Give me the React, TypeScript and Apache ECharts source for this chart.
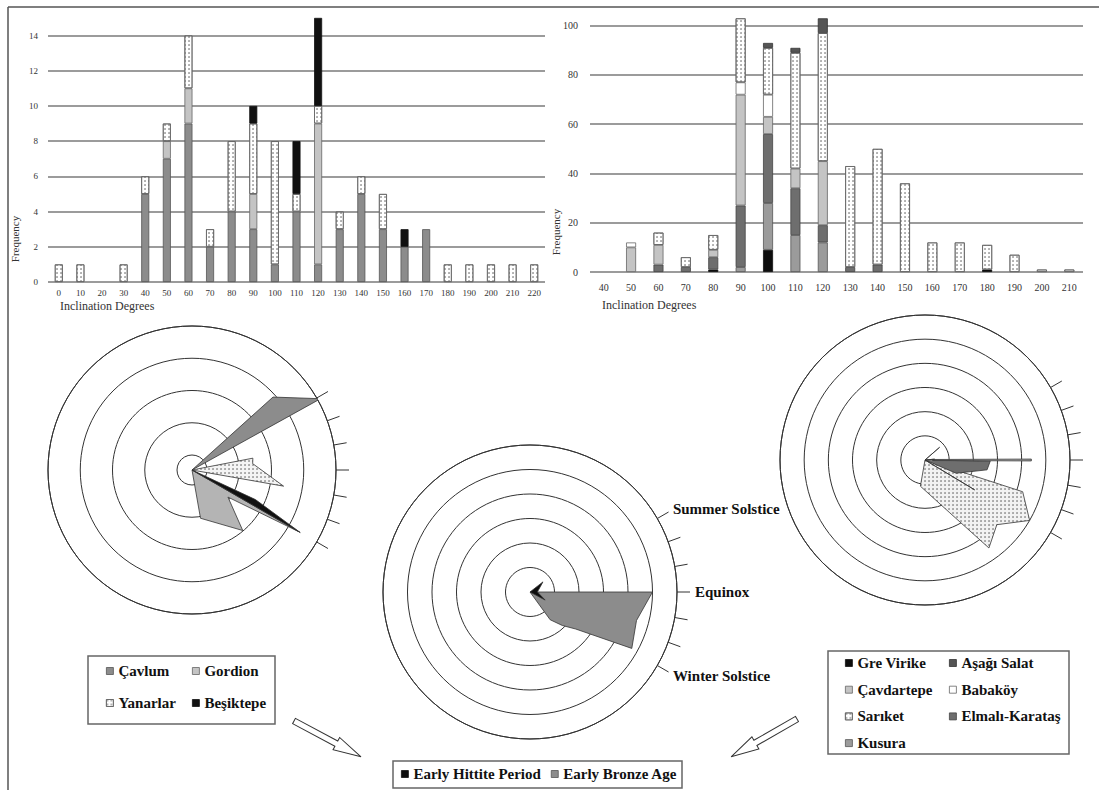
import React, { useEffect, useRef } from "react";
import * as echarts from "echarts";

const SERIF = "'Liberation Serif', 'DejaVu Serif', serif";

// ---------- Top-left histogram (Early Bronze Age sites) ----------
const leftCategories = ["0", "10", "20", "30", "40", "50", "60", "70", "80", "90", "100", "110", "120", "130", "140", "150", "160", "170", "180", "190", "200", "210", "220"];
const leftYMin = 0;
const leftYMax = 14;
const leftYStep = 2;
const cavlumCounts = [0, 0, 0, 0, 5, 7, 9, 2, 4, 3, 1, 4, 1, 3, 5, 3, 2, 3, 0, 0, 0, 0, 0];
const gordionCounts = [0, 0, 0, 0, 0, 1, 2, 0, 0, 2, 0, 0, 8, 0, 0, 0, 0, 0, 0, 0, 0, 0, 0];
const yanarlarCounts = [1, 1, 0, 1, 1, 1, 3, 1, 4, 4, 7, 1, 1, 1, 1, 2, 0, 0, 1, 1, 1, 1, 1];
const besiktepeCounts = [0, 0, 0, 0, 0, 0, 0, 0, 0, 1, 0, 3, 5, 0, 0, 0, 1, 0, 0, 0, 0, 0, 0];

// ---------- Top-right histogram ----------
const rightCategories = ["40", "50", "60", "70", "80", "90", "100", "110", "120", "130", "140", "150", "160", "170", "180", "190", "200", "210"];
const rightYMin = 0;
const rightYMax = 100;
const rightYStep = 20;
const greVirikeCounts = [0, 0, 0, 0, 1, 0, 9, 0, 0, 0, 0, 0, 0, 0, 1, 0, 0, 0];
const kusuraCounts = [0, 0, 0, 0, 0, 2, 19, 15, 12, 0, 0, 0, 0, 0, 0, 0, 0, 0];
const elmaliCounts = [0, 0, 3, 2, 5, 25, 28, 19, 7, 2, 3, 0, 0, 0, 0, 0, 0, 0];
const cavdartepeCounts = [0, 10, 8, 0, 3, 45, 7, 8, 26, 0, 0, 0, 0, 0, 0, 0, 0, 0];
const babakoyCounts = [0, 2, 0, 0, 0, 5, 9, 0, 0, 0, 0, 0, 0, 0, 0, 0, 0, 0];
const sariketCounts = [0, 0, 5, 4, 6, 26, 19, 47, 52, 41, 47, 36, 12, 12, 10, 7, 1, 1];
const asagiSalatCounts = [0, 0, 0, 0, 0, 0, 2, 2, 6, 0, 0, 0, 0, 0, 0, 0, 0, 0];

// ---------- Rose diagrams: [radius, azimuth] ----------
const compassDirections = ["0", "10", "20", "30", "40", "50", "60", "70", "80", "90", "100", "110", "120", "130", "140", "150", "160", "170", "180", "190", "200", "210", "220", "230", "240", "250", "260", "270", "280", "290", "300", "310", "320", "330", "340", "350"];
const sunriseMarks = ["60", "70", "80", "90", "100", "110", "120"];
const solsticeNames: Record<string, string> = { "60": "Summer Solstice", "90": "Equinox", "120": "Winter Solstice" };

const leftRoseRingMin = -0.465;
const leftRoseRingMax = 4;
const leftRoseMax = 14.4;
const leftRoseCavlum = [[0, 40], [10.9, 48], [14.7, 61], [0, 66]];
const leftRoseGordion = [[0, 116], [12.4, 120], [4.5, 127], [7.9, 140], [4.9, 170], [0, 176]];
const leftRoseYanarlar = [[0, 70], [6.2, 79], [6.1, 84], [9.3, 100], [0, 104]];
const leftRoseBesiktepe = [[0, 110], [7, 115], [12.5, 120], [0, 122]];

const midRoseMax = 6;
const midRoseBronze = [[0, 80], [5.0, 90], [4.5, 105], [4.75, 119], [2.4, 129], [1.9, 136], [1.4, 144], [0, 150]];
const midRoseHittite = [[0, 40], [0.67, 52], [0.3, 90], [0.7, 118], [0, 130]];

const rightRoseMax = 6;
const rightRoseSariket = [[0, 100], [4.25, 108], [5.0, 120], [4.0, 132], [4.5, 144], [2.4, 155], [1.1, 190], [0, 200]];
const rightRoseElmali = [[0, 85], [2.7, 91], [2.6, 99], [1.4, 113], [0, 118]];
const rightRoseCavdartepe = [[0.3, 86], [4.4, 89.5], [4.4, 90.5], [0.3, 94]];
const rightRoseKusura = [[0, 119], [2.4, 121], [0, 123]];
const rightRoseBabakoy = [[0, 40], [0.8, 49], [0, 70]];
const rightRoseGreVirike = [[0, 80], [0.4, 85], [0, 95]];

// ---------- styles ----------
const dots = { symbol: "circle", symbolSize: 0.7, color: "#444", dashArrayX: [2, 1.5], dashArrayY: [2, 1.5], rotation: 0 };
const S = {
  cavlum: { color: "#8c8c8c", borderColor: "#555", borderWidth: 0.8 },
  gordion: { color: "#c4c4c4", borderColor: "#666", borderWidth: 0.8 },
  yanarlar: { color: "#ffffff", borderColor: "#666", borderWidth: 0.8, decal: dots },
  besiktepe: { color: "#111111", borderColor: "#111", borderWidth: 0.8 },
  greVirike: { color: "#0d0d0d", borderColor: "#111", borderWidth: 0.8 },
  kusura: { color: "#9b9b9b", borderColor: "#555", borderWidth: 0.8 },
  elmali: { color: "#6e6e6e", borderColor: "#444", borderWidth: 0.8 },
  cavdartepe: { color: "#c4c4c4", borderColor: "#666", borderWidth: 0.8 },
  babakoy: { color: "#ffffff", borderColor: "#666", borderWidth: 0.8 },
  sariket: { color: "#ffffff", borderColor: "#666", borderWidth: 0.8, decal: dots },
  asagi: { color: "#555555", borderColor: "#333", borderWidth: 0.8 },
  hittite: { color: "#0d0d0d", borderColor: "#111", borderWidth: 0.8 },
  bronze: { color: "#8c8c8c", borderColor: "#555", borderWidth: 0.8 },
};

const nz = (a: number[]) => a.map((v) => (v === 0 ? "-" : v));

function bar(name: string, data: number[], idx: number, width: number, style: any) {
  return {
    type: "bar",
    name,
    data: nz(data),
    xAxisIndex: idx,
    yAxisIndex: idx,
    stack: "s" + idx,
    barWidth: width,
    clip: false,
    itemStyle: style,
    emphasis: { disabled: true },
    silent: true,
  };
}

function rose(name: string, data: number[][], polarIndex: number, style: any, z = 3) {
  return {
    type: "line",
    name,
    coordinateSystem: "polar",
    polarIndex,
    data,
    symbol: "none",
    showSymbol: false,
    smooth: false,
    silent: true,
    z,
    lineStyle: { color: "#333", width: 0.8, decal: style.decal },
    areaStyle: { color: style.color, opacity: 1 },
    itemStyle: { color: style.color, decal: style.decal },
    emphasis: { disabled: true },
  };
}

function decorAngle(polarIndex: number, withLabels: boolean) {
  return {
    polarIndex,
    type: "category",
    data: compassDirections,
    boundaryGap: true,
    startAngle: 95,
    clockwise: true,
    silent: true,
    axisLine: { show: true, lineStyle: { color: "#333", width: 1 } },
    axisTick: {
      show: true,
      inside: false,
      length: 13,
      alignWithLabel: true,
      interval: (_i: number, v: string) => sunriseMarks.indexOf(v) >= 0,
      lineStyle: { color: "#333", width: 1 },
    },
    axisLabel: withLabels
      ? {
          show: true,
          interval: (_i: number, v: string) => v in solsticeNames,
          formatter: (v: string) => solsticeNames[v] || "",
          margin: 18,
          fontFamily: SERIF,
          fontWeight: "bold",
          fontSize: 15,
          lineHeight: 2,
          color: "#111",
        }
      : { show: false },
    splitLine: { show: false },
  };
}

function dataAngle(polarIndex: number) {
  return {
    polarIndex,
    type: "value",
    min: 0,
    max: 360,
    startAngle: 90,
    clockwise: true,
    axisLine: { show: false },
    axisTick: { show: false },
    axisLabel: { show: false },
    splitLine: { show: false },
  };
}

function decorRadius(polarIndex: number, min: number, max: number, interval?: number) {
  const r: any = {
    polarIndex,
    type: "value",
    min,
    max,
    silent: true,
    axisLine: { show: false },
    axisTick: { show: false },
    axisLabel: { show: false },
    splitLine: { show: true, lineStyle: { color: "#333", width: 1 } },
  };
  if (interval) r.interval = interval;
  else r.splitNumber = 4;
  return r;
}

function dataRadius(polarIndex: number, max: number) {
  return {
    polarIndex,
    type: "value",
    min: 0,
    max,
    axisLine: { show: false },
    axisTick: { show: false },
    axisLabel: { show: false },
    splitLine: { show: false },
  };
}

const legendText = { fontFamily: SERIF, fontWeight: "bold", fontSize: 15, color: "#111", lineHeight: 16 };
function legend(names: string[], styles: any[], left: number, top: number, gap: number, orient = "vertical") {
  return {
    orient,
    left,
    top,
    padding: 0,
    itemGap: gap,
    itemWidth: 7,
    itemHeight: 7,
    icon: "rect",
    selectedMode: false,
    textStyle: legendText,
    data: names.map((n, i) => ({ name: n, itemStyle: styles[i] })),
  };
}

const arrowPoints = [[0, -3], [48, -3], [48, -7], [76, 0], [48, 7], [48, 3], [0, 3]];

function buildOption() {
  return {
    animation: false,
    backgroundColor: "#ffffff",
    textStyle: { fontFamily: SERIF },
    grid: [
      { left: 48, top: 35.5, width: 497, height: 246.5 },
      { left: 590, top: 25.7, width: 493, height: 246.3 },
    ],
    xAxis: [
      {
        type: "category",
        gridIndex: 0,
        data: leftCategories,
        axisLine: { show: false },
        axisTick: { show: false },
        axisLabel: { fontSize: 9, color: "#333", margin: 6, interval: 0, fontFamily: SERIF },
      },
      {
        type: "category",
        gridIndex: 1,
        data: rightCategories,
        axisLine: { show: false },
        axisTick: { show: false },
        axisLabel: { fontSize: 10, color: "#333", margin: 10, interval: 0, fontFamily: SERIF },
      },
    ],
    yAxis: [
      {
        type: "value",
        gridIndex: 0,
        min: leftYMin,
        max: leftYMax,
        interval: leftYStep,
        axisLine: { show: false },
        axisTick: { show: false },
        axisLabel: { fontSize: 9, color: "#333", margin: 10, fontFamily: SERIF },
        splitLine: { show: true, lineStyle: { color: "#7a7a7a", width: 1.5 } },
      },
      {
        type: "value",
        gridIndex: 1,
        min: rightYMin,
        max: rightYMax,
        interval: rightYStep,
        axisLine: { show: false },
        axisTick: { show: false },
        axisLabel: { fontSize: 10, color: "#333", margin: 12, fontFamily: SERIF },
        splitLine: { show: true, lineStyle: { color: "#7a7a7a", width: 1.5 } },
      },
    ],
    polar: [
      { center: [192, 470], radius: 144 },
      { center: [192, 470], radius: 144 },
      { center: [530, 592], radius: 147 },
      { center: [530, 592], radius: 147 },
      { center: [925, 460], radius: 145 },
      { center: [925, 460], radius: 145 },
    ],
    angleAxis: [decorAngle(0, false), dataAngle(1), decorAngle(2, true), dataAngle(3), decorAngle(4, false), dataAngle(5)],
    radiusAxis: [
      decorRadius(0, leftRoseRingMin, leftRoseRingMax),
      dataRadius(1, leftRoseMax),
      decorRadius(2, 0, 6, 1),
      dataRadius(3, midRoseMax),
      decorRadius(4, 0, 6, 1),
      dataRadius(5, rightRoseMax),
    ],
    legend: [
      legend(["Çavlum", "Yanarlar"], [S.cavlum, S.yanarlar], 106, 663, 16),
      legend(["Gordion", "Beşiktepe"], [S.gordion, S.besiktepe], 192, 663, 16),
      legend(["Gre Virike", "Çavdartepe", "Sarıket", "Kusura"], [S.greVirike, S.cavdartepe, S.sariket, S.kusura], 845, 655, 10.7),
      legend(["Aşağı Salat", "Babaköy", "Elmalı-Karataş"], [S.asagi, S.babakoy, S.elmali], 949, 655, 10.7),
      legend(["Early Hittite Period", "Early Bronze Age"], [S.hittite, S.bronze], 401, 766, 10, "horizontal"),
    ],
    series: [
      bar("Çavlum", cavlumCounts, 0, 8, S.cavlum),
      bar("Gordion", gordionCounts, 0, 8, S.gordion),
      bar("Yanarlar", yanarlarCounts, 0, 8, S.yanarlar),
      bar("Beşiktepe", besiktepeCounts, 0, 8, S.besiktepe),
      bar("Gre Virike", greVirikeCounts, 1, 10, S.greVirike),
      bar("Kusura", kusuraCounts, 1, 10, S.kusura),
      bar("Elmalı-Karataş", elmaliCounts, 1, 10, S.elmali),
      bar("Çavdartepe", cavdartepeCounts, 1, 10, S.cavdartepe),
      bar("Babaköy", babakoyCounts, 1, 10, S.babakoy),
      bar("Sarıket", sariketCounts, 1, 10, S.sariket),
      bar("Aşağı Salat", asagiSalatCounts, 1, 10, S.asagi),

      rose("Çavlum", leftRoseCavlum, 1, S.cavlum, 3),
      rose("Gordion", leftRoseGordion, 1, { color: "#b4b4b4" }, 4),
      rose("Yanarlar", leftRoseYanarlar, 1, { color: "#f4f4f4", decal: dots }, 5),
      rose("Beşiktepe", leftRoseBesiktepe, 1, S.besiktepe, 6),

      rose("Early Bronze Age", midRoseBronze, 3, S.bronze, 3),
      rose("Early Hittite Period", midRoseHittite, 3, S.hittite, 4),

      rose("Sarıket", rightRoseSariket, 5, { color: "#f2f2f2", decal: dots }, 3),
      rose("Elmalı-Karataş", rightRoseElmali, 5, S.elmali, 4),
      rose("Çavdartepe", rightRoseCavdartepe, 5, { color: "#a8a8a8" }, 5),
      rose("Kusura", rightRoseKusura, 5, S.kusura, 5),
      rose("Babaköy", rightRoseBabakoy, 5, { color: "#d8d8d8" }, 5),
      rose("Gre Virike", rightRoseGreVirike, 5, S.greVirike, 6),
    ],
    graphic: [
      { type: "line", silent: true, shape: { x1: 8, y1: 7, x2: 1099, y2: 7 }, style: { stroke: "#555", lineWidth: 1.5 } },
      { type: "line", silent: true, shape: { x1: 8, y1: 7, x2: 8, y2: 790 }, style: { stroke: "#555", lineWidth: 1.5 } },
      { type: "rect", silent: true, shape: { x: 88, y: 656, width: 187, height: 68 }, style: { fill: "none", stroke: "#666", lineWidth: 1.5 } },
      { type: "rect", silent: true, shape: { x: 828, y: 651, width: 241, height: 103 }, style: { fill: "none", stroke: "#666", lineWidth: 1.5 } },
      { type: "rect", silent: true, shape: { x: 393, y: 761, width: 289, height: 27 }, style: { fill: "none", stroke: "#666", lineWidth: 1.5 } },
      {
        type: "text", silent: true, x: 15, y: 239, rotation: Math.PI / 2,
        style: { text: "Frequency", fontSize: 11, fontFamily: SERIF, fill: "#333", textAlign: "center", textVerticalAlign: "middle", align: "center", verticalAlign: "middle" },
      },
      {
        type: "text", silent: true, x: 556, y: 232, rotation: Math.PI / 2,
        style: { text: "Frequency", fontSize: 11, fontFamily: SERIF, fill: "#333", textAlign: "center", textVerticalAlign: "middle", align: "center", verticalAlign: "middle" },
      },
      {
        type: "text", silent: true, x: 60, y: 306,
        style: { text: "Inclination Degrees", fontSize: 12, fontFamily: SERIF, fill: "#333", textAlign: "left", textVerticalAlign: "middle", align: "left", verticalAlign: "middle" },
      },
      {
        type: "text", silent: true, x: 602, y: 305,
        style: { text: "Inclination Degrees", fontSize: 12, fontFamily: SERIF, fill: "#333", textAlign: "left", textVerticalAlign: "middle", align: "left", verticalAlign: "middle" },
      },
      {
        type: "group", x: 294, y: 721, rotation: -0.49, silent: true,
        children: [{ type: "polygon", shape: { points: arrowPoints }, style: { fill: "#fff", stroke: "#333", lineWidth: 1 } }],
      },
      {
        type: "group", x: 797, y: 719, rotation: -2.62, silent: true,
        children: [{ type: "polygon", shape: { points: arrowPoints }, style: { fill: "#fff", stroke: "#333", lineWidth: 1 } }],
      },
    ],
  };
}

export default function App() {
  const ref = useRef<HTMLDivElement>(null);
  useEffect(() => {
    if (!ref.current) return;
    const chart = echarts.init(ref.current, null, { renderer: "svg" });
    chart.setOption(buildOption() as any);
    return () => chart.dispose();
  }, []);
  return (
    <div
      ref={ref}
      style={{ position: "absolute", left: 0, top: 0, width: 1099, height: 790, background: "#fff" }}
    />
  );
}
